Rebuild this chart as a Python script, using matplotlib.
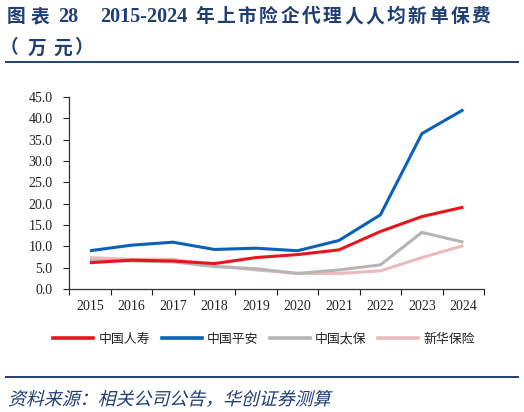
import matplotlib
matplotlib.use("Agg")
import matplotlib.pyplot as plt
import matplotlib.transforms as mt
from matplotlib.lines import Line2D
from matplotlib.textpath import TextPath
from matplotlib.patches import PathPatch
from matplotlib.font_manager import FontProperties

plt.rcParams['font.family'] = ['Liberation Serif', 'Noto Sans CJK SC']

years = ["2015", "2016", "2017", "2018", "2019", "2020", "2021", "2022", "2023", "2024"]
clic = [6.2, 6.8, 6.6, 6.0, 7.4, 8.1, 9.2, 13.5, 17.0, 19.2]      # 中国人寿
pingan = [9.0, 10.3, 11.0, 9.3, 9.6, 9.0, 11.4, 17.4, 36.4, 42.0]  # 中国平安
cpic = [6.7, 6.6, 6.4, 5.3, 4.8, 3.7, 4.5, 5.7, 13.3, 11.0]        # 中国太保
nci = [7.4, 7.0, 7.0, 5.5, 4.5, 3.7, 3.7, 4.3, 7.4, 10.2]          # 新华保险
names = ["中国人寿", "中国平安", "中国太保", "新华保险"]
cols = ["#E8151E", "#0A62B8", "#B5B5B5", "#EBBABC"]

W, H = 524, 412
fig = plt.figure(figsize=(W / 100, H / 100), dpi=100)
ax = fig.add_axes([0.132, 0.298, 0.792, 0.467])
x = range(len(years))
for s, c in zip([nci, cpic, clic, pingan], [cols[3], cols[2], cols[0], cols[1]]):
    ax.plot(x, s, '-', color=c, lw=2.2, solid_capstyle='butt')

ax.set_xlim(-0.5, len(years) - 0.5)
ax.set_ylim(0, 45)
ax.set_yticks(range(0, 46, 5))
ax.set_yticklabels([f"{v:.1f}" for v in range(0, 46, 5)])
ax.set_xticks([i - 0.5 for i in range(len(years) + 1)])
ax.set_xticklabels([])
ax.set_xticks(list(x), minor=True)
ax.set_xticklabels(years, minor=True)
ax.tick_params(axis='x', which='minor', length=0, pad=8)
ax.tick_params(axis='x', which='major', length=4, direction='out', width=0.8)
ax.tick_params(axis='y', length=4, direction='out', width=0.8, pad=8)
ax.tick_params(which='both', labelsize=10, colors='#222222')
for sp in ['top', 'right']:
    ax.spines[sp].set_visible(False)
for sp in ['left', 'bottom']:
    ax.spines[sp].set_linewidth(0.9)
    ax.spines[sp].set_color('#333333')

handles = [Line2D([], [], color=c, lw=2.6) for c in cols]
fig.legend(handles, names, loc='center', bbox_to_anchor=(0.504, 0.176), ncol=4, frameon=False,
           prop={'family': 'Noto Sans CJK SC', 'size': 9.3}, handlelength=3.1, handletextpad=0.4,
           columnspacing=0.9, labelcolor='#222222')

# title, placed piece by piece (the original is letter-spaced)
tc = "#1F3E73"
def put(s, xp, yp, size=13.5, fam=None):
    kw = dict(fontsize=size, fontweight='bold', color=tc, va='center', ha='left')
    if fam:
        kw['family'] = fam
    fig.text(xp / W, 1 - yp / H, s, **kw)

put("图", 7, 16.5, fam=['Noto Sans CJK SC'])
put("表", 31, 16.5, fam=['Noto Sans CJK SC'])
put("28", 58, 16.5, size=14.5)
put("2015-2024", 100, 16.5, size=14.5)
for i, ch in enumerate("年上市险企代理人人均新单保费"):
    put(ch, 195 + i * 21.3, 16.5, fam=['Noto Sans CJK SC'])
for ch, xp in zip("（万元）", [0, 28, 53, 74]):
    put(ch, xp, 48, fam=['Noto Sans CJK SC'])

fig.add_artist(Line2D([6 / W, 518 / W], [1 - 62 / H, 1 - 62 / H], color=tc, lw=1.4, transform=fig.transFigure))
fig.add_artist(Line2D([6 / W, 518 / W], [1 - 377 / H, 1 - 377 / H], color=tc, lw=1.4, transform=fig.transFigure))

# slanted source note
src = "资料来源：相关公司公告，华创证券测算"
tp = TextPath((0, 0), src, size=12.9, prop=FontProperties(family='Noto Sans CJK SC'))
tr = mt.Affine2D().skew_deg(14, 0).scale(1 / 72).translate(8 / 100, (H - 405) / 100) + fig.dpi_scale_trans
fig.add_artist(PathPatch(tp, transform=tr, facecolor=tc, edgecolor='none'))

plt.savefig("out.png", dpi=100)
